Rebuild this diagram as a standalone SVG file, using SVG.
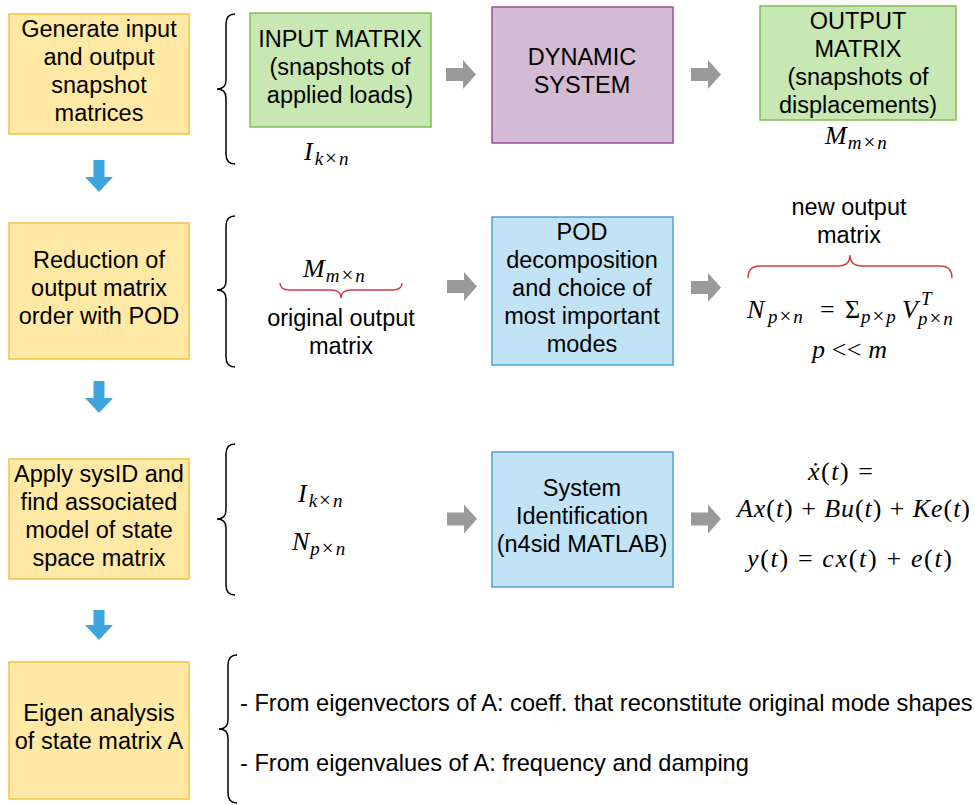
<svg xmlns="http://www.w3.org/2000/svg" width="975" height="805" viewBox="0 0 975 805">
<style>
.t{font-family:"Liberation Sans",Arial,sans-serif;font-size:23.5px;fill:#000;text-anchor:middle}
.tl{font-family:"Liberation Sans",Arial,sans-serif;font-size:23.6px;fill:#000}
.m{font-family:"Liberation Serif","DejaVu Serif",serif;font-size:26px;fill:#000}
.i{font-style:italic}
.s{font-size:19px}
.x{font-size:21px}
.y{fill:#ffe9a5;stroke:#f5c146;stroke-width:1.5}
.g{fill:#c7e7b3;stroke:#80bf54;stroke-width:1.5}
.p{fill:#d3bbd3;stroke:#9b4d9d;stroke-width:1.5}
.b{fill:#c2e3f6;stroke:#4ba3dc;stroke-width:1.5}
.br{fill:none;stroke:#000;stroke-width:1.5}
.rb{fill:none;stroke:#d43c47;stroke-width:1.5}
.da{fill:#3ea5de}
.ga{fill:#9a9a9a}
</style>
<rect width="975" height="805" fill="#fff"/>

<g id="step1">
<rect class="y" x="9" y="14" width="180" height="120"/>
<text class="t" x="99" y="37">Generate input</text>
<text class="t" x="99" y="65">and output</text>
<text class="t" x="99" y="93">snapshot</text>
<text class="t" x="99" y="121">matrices</text>
</g>
<g id="step2">
<rect class="y" x="9" y="223" width="180" height="136"/>
<text class="t" x="99" y="268">Reduction of</text>
<text class="t" x="99" y="296">output matrix</text>
<text class="t" x="99" y="324">order with POD</text>
</g>
<g id="step3">
<rect class="y" x="9" y="459" width="180" height="120"/>
<text class="t" x="99" y="482">Apply sysID and</text>
<text class="t" x="99" y="510">find associated</text>
<text class="t" x="99" y="538">model of state</text>
<text class="t" x="99" y="566">space matrix</text>
</g>
<g id="step4">
<rect class="y" x="9" y="662" width="180" height="137"/>
<text class="t" x="99" y="721">Eigen analysis</text>
<text class="t" x="99" y="749">of state matrix A</text>
</g>

<g id="braces">
<path class="br" d="M235,14 Q226,14 226,24 L226,80 Q226,89 217,89 Q226,89 226,98 L226,154 Q226,164 235,164"/>
<path class="br" d="M235,216 Q226,216 226,226 L226,281 Q226,290 217,290 Q226,290 226,299 L226,357 Q226,367 235,367"/>
<path class="br" d="M235,444 Q226,444 226,454 L226,510 Q226,519 217,519 Q226,519 226,528 L226,585 Q226,595 235,595"/>
<path class="br" d="M237,655 Q228,655 228,665 L228,720 Q228,729 219,729 Q228,729 228,738 L228,793 Q228,803 237,803"/>
</g>

<g id="input-matrix">
<rect class="g" x="250" y="13" width="181" height="114"/>
<text class="t" x="340" y="47">INPUT MATRIX</text>
<text class="t" x="340" y="75">(snapshots of</text>
<text class="t" x="340" y="103">applied loads)</text>
<text class="m" x="304" y="160"><tspan class="i">I</tspan><tspan class="s i" dx="2" dy="5">k</tspan><tspan class="x" dx="2">×</tspan><tspan class="s i" dx="2">n</tspan></text>
</g>
<g id="dynamic-system">
<rect class="p" x="492" y="7" width="181" height="136"/>
<text class="t" x="582" y="65">DYNAMIC</text>
<text class="t" x="582" y="93">SYSTEM</text>
</g>
<g id="output-matrix">
<rect class="g" x="760" y="6" width="196" height="114"/>
<text class="t" x="858" y="29">OUTPUT</text>
<text class="t" x="858" y="57">MATRIX</text>
<text class="t" x="858" y="85">(snapshots of</text>
<text class="t" x="858" y="113">displacements)</text>
<text class="m" x="825" y="144"><tspan class="i">M</tspan><tspan class="s i" dx="1" dy="5">m</tspan><tspan class="x" dx="2">×</tspan><tspan class="s i" dx="2">n</tspan></text>
</g>

<g id="original-output">
<text class="m" x="303" y="277"><tspan class="i">M</tspan><tspan class="s i" dx="1" dy="5">m</tspan><tspan class="x" dx="2">×</tspan><tspan class="s i" dx="2">n</tspan></text>
<path class="rb" d="M280,283 Q280,290 290,290 L331,290 Q341,290 341,298 Q341,290 351,290 L392,290 Q402,290 402,283"/>
<text class="t" x="341" y="326">original output</text>
<text class="t" x="341" y="354">matrix</text>
</g>
<g id="pod">
<rect class="b" x="492" y="217" width="181" height="148"/>
<text class="t" x="582" y="240">POD</text>
<text class="t" x="582" y="268">decomposition</text>
<text class="t" x="582" y="296">and choice of</text>
<text class="t" x="582" y="324">most important</text>
<text class="t" x="582" y="352">modes</text>
</g>
<g id="new-output">
<text class="t" x="849" y="215">new output</text>
<text class="t" x="849" y="243">matrix</text>
<path class="rb" d="M748,278 Q748,266 760,266 L838,266 Q850,266 850,255 Q850,266 862,266 L940,266 Q952,266 952,278"/>
<text class="m i" x="747" y="318">N</text>
<text class="m s" x="768" y="323"><tspan class="i">p</tspan><tspan class="x" dx="2">×</tspan><tspan class="i" dx="2">n</tspan></text>
<text class="m" x="820" y="318">=</text>
<text class="m" x="845" y="318">Σ</text>
<text class="m s" x="861" y="323"><tspan class="i">p</tspan><tspan class="x" dx="2">×</tspan><tspan class="i" dx="2">p</tspan></text>
<text class="m i" x="902" y="318">V</text>
<text class="m s i" x="921" y="305">T</text>
<text class="m s" x="918" y="325"><tspan class="i">p</tspan><tspan class="x" dx="2">×</tspan><tspan class="i" dx="2">n</tspan></text>
<text class="m" x="812" y="358" font-size="19" textLength="75"><tspan class="i">p</tspan> &lt;&lt; <tspan class="i">m</tspan></text>
</g>

<g id="sysid-inputs">
<text class="m" x="298" y="502"><tspan class="i">I</tspan><tspan class="s i" dx="2" dy="5">k</tspan><tspan class="x" dx="2">×</tspan><tspan class="s i" dx="2">n</tspan></text>
<text class="m" x="292" y="550"><tspan class="i">N</tspan><tspan class="s i" dx="1" dy="5">p</tspan><tspan class="x" dx="2">×</tspan><tspan class="s i" dx="2">n</tspan></text>
</g>
<g id="sysid">
<rect class="b" x="492" y="452" width="181" height="135"/>
<text class="t" x="582" y="496">System</text>
<text class="t" x="582" y="524">Identification</text>
<text class="t" x="582" y="552">(n4sid MATLAB)</text>
</g>
<g id="state-space">
<text class="m" x="808" y="480" textLength="65"><tspan class="i">ẋ</tspan>(<tspan class="i">t</tspan>) =</text>
<text class="m" x="737" y="517" textLength="233"><tspan class="i">Ax</tspan>(<tspan class="i">t</tspan>) + <tspan class="i">Bu</tspan>(<tspan class="i">t</tspan>) + <tspan class="i">Ke</tspan>(<tspan class="i">t</tspan>)</text>
<text class="m" x="747" y="567" textLength="205"><tspan class="i">y</tspan>(<tspan class="i">t</tspan>) = <tspan class="i">cx</tspan>(<tspan class="i">t</tspan>) + <tspan class="i">e</tspan>(<tspan class="i">t</tspan>)</text>
</g>

<g id="eigen-results">
<text class="tl" x="240" y="711">- From eigenvectors of A: coeff. that reconstitute original mode shapes</text>
<text class="tl" x="240" y="771">- From eigenvalues of A: frequency and damping</text>
</g>

<g id="connectors">
<polygon class="da" points="93.5,160 104.5,160 104.5,177 113,177 99,192 85,177 93.5,177"/>
<polygon class="da" points="93.5,381 104.5,381 104.5,398 113,398 99,413 85,398 93.5,398"/>
<polygon class="da" points="93.5,610 104.5,610 104.5,625 113,625 99,640 85,625 93.5,625"/>
<polygon class="ga" points="446,68 463,68 463,60 476,74.5 463,89 463,81 446,81"/>
<polygon class="ga" points="691,68 708,68 708,60 721,74.5 708,89 708,81 691,81"/>
<polygon class="ga" points="447,280 464,280 464,272 477,286.5 464,301 464,293 447,293"/>
<polygon class="ga" points="691,281 708,281 708,273 721,287.5 708,302 708,294 691,294"/>
<polygon class="ga" points="447,512.5 464,512.5 464,504.5 477,519 464,533.5 464,525.5 447,525.5"/>
<polygon class="ga" points="691,512.5 708,512.5 708,504.5 721,519 708,533.5 708,525.5 691,525.5"/>
</g>
</svg>
